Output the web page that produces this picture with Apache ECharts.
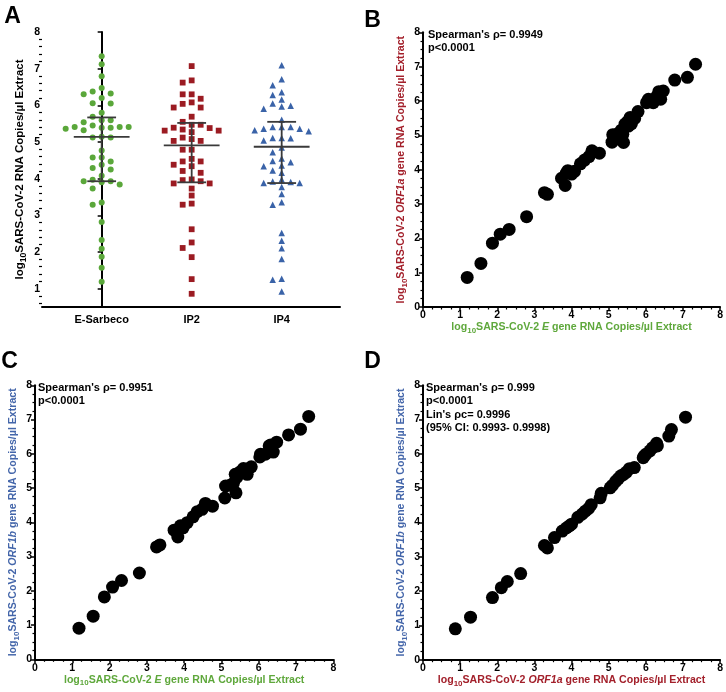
<!DOCTYPE html>
<html><head><meta charset="utf-8">
<script src="https://cdn.jsdelivr.net/npm/echarts@6/dist/echarts.min.js"></script>
<style>html,body{margin:0;padding:0;background:#fff}#c{width:726px;height:692px}</style>
</head><body><div id="c"></div>
<script>
// ---------- DATA ----------
const groups = ['E-Sarbeco', 'IP2', 'IP4'];
const eSarbeco = [7.34,7.12,6.79,6.47,6.38,6.32,6.30,6.20,6.06,6.05,5.80,5.69,5.59,5.59,5.54,5.45,5.41,5.41,5.41,5.39,5.39,5.36,5.32,5.14,5.12,5.12,4.77,4.58,4.58,4.47,4.38,4.29,4.25,4.08,3.97,3.93,3.93,3.90,3.84,3.73,3.35,3.29,2.82,2.33,2.09,1.87,1.57,1.19];
const ip2 = [7.07,6.68,6.62,6.30,6.30,6.18,6.08,6.04,5.94,5.94,5.69,5.55,5.47,5.47,5.39,5.38,5.34,5.31,5.31,5.27,5.12,5.08,5.03,5.03,4.79,4.79,4.54,4.47,4.47,4.38,4.34,4.21,4.16,3.98,3.96,3.93,3.87,3.87,3.73,3.54,3.32,3.29,2.62,2.26,2.11,1.86,1.26,0.86];
const ip4 = [7.09,6.71,6.55,6.36,6.28,6.16,6.05,5.99,5.97,5.91,5.61,5.41,5.41,5.41,5.36,5.36,5.32,5.29,5.11,5.11,5.10,5.04,4.85,4.72,4.55,4.48,4.45,4.36,4.34,4.22,4.16,3.98,3.92,3.91,3.88,3.88,3.77,3.58,3.36,3.29,2.52,2.31,2.10,1.81,1.27,1.24,0.92];
const medians = [5.14, 4.91, 4.87];
const q1 = [3.93, 3.90, 3.88];
const q3 = [5.67, 5.52, 5.55];

// B: E gene (x) vs ORF1a (y)
const bX = [1.19,1.56,1.87,2.08,2.32,2.79,3.27,3.35,3.73,3.83,3.90,4.00,4.08,4.24,4.35,4.47,4.55,4.75,5.09,5.11,5.24,5.38,5.40,5.34,5.44,5.51,5.58,5.70,5.61,5.79,6.02,6.07,6.20,6.29,6.35,6.40,6.47,6.78,7.12,7.34,3.86,5.17,5.53];
const bY = [0.86,1.27,1.86,2.12,2.26,2.63,3.33,3.28,3.75,3.54,3.97,3.87,3.95,4.17,4.28,4.38,4.55,4.48,4.80,5.02,5.04,5.03,4.79,5.15,5.33,5.40,5.52,5.49,5.33,5.69,5.95,6.05,5.95,6.13,6.27,6.05,6.29,6.61,6.69,7.07,3.90,5.01,5.27];
// C: E gene (x) vs ORF1b (y)
const cX = [1.18,1.56,1.86,2.08,2.32,2.80,3.26,3.35,3.73,3.83,3.90,3.97,4.08,4.24,4.35,4.48,4.57,4.76,5.09,5.11,5.23,5.32,5.39,5.37,5.41,5.50,5.59,5.69,5.66,5.80,6.03,6.05,6.18,6.28,6.32,6.39,6.48,6.80,7.12,7.34];
const cY = [0.91,1.26,1.82,2.11,2.30,2.52,3.28,3.34,3.77,3.57,3.90,3.84,3.99,4.16,4.31,4.38,4.55,4.47,4.71,5.06,5.08,5.14,4.86,5.40,5.31,5.47,5.57,5.40,5.47,5.62,5.91,5.99,5.99,6.23,6.26,6.05,6.34,6.55,6.72,7.09];
// D: ORF1a (x) vs ORF1b (y)
const dX = [0.87,1.28,1.87,2.11,2.27,2.63,3.27,3.35,3.54,3.75,3.86,3.94,4.00,4.17,4.28,4.37,4.46,4.53,4.77,4.80,5.04,5.10,5.26,5.33,5.40,5.48,5.56,5.69,5.93,6.00,6.11,6.18,6.29,6.62,6.69,7.07,5.19,5.96,6.31];
const dY = [0.90,1.24,1.81,2.10,2.28,2.51,3.33,3.26,3.56,3.75,3.84,3.90,3.95,4.15,4.24,4.33,4.41,4.52,4.72,4.85,5.01,5.08,5.28,5.36,5.40,5.47,5.57,5.60,5.89,5.99,6.09,6.18,6.31,6.52,6.71,7.07,5.20,5.94,6.23];

const stats = {
  B: ["Spearman's ρ= 0.9949", 'p<0.0001'],
  C: ["Spearman's ρ= 0.9951", 'p<0.0001'],
  D: ["Spearman's ρ= 0.999", 'p<0.0001', "Lin's ρc= 0.9996", '(95% CI: 0.9993- 0.9998)']
};
const tickValuesA = [1,2,3,4,5,6,7,8];

// ---------- STYLE ----------
const FONT = 'Liberation Sans, Arial, sans-serif';
const GREEN = '#5aa73a', RED = '#9b1b22', BLUE = '#3a63a8';
const NAME_GREEN = '#5fa83c', NAME_RED = '#a3202b', NAME_BLUE = '#4466aa';

function pairs(xs, ys) { return xs.map((x, i) => [x, ys[i]]); }

// beeswarm layout (collision-avoidance) for the dot plot
function swarm(vals, gi) {
  const order = vals.map((v, i) => i).sort((a, b) => vals[b] - vals[a]);
  const placed = [], out = [];
  const step = 0.1, dyMin = 0.18;
  order.forEach(i => {
    const v = vals[i];
    for (let k = 0; k < 30; k++) {
      const off = (k === 0 ? 0 : (k % 2 ? -Math.ceil(k / 2) : Math.ceil(k / 2))) * step;
      if (!placed.some(p => Math.abs(p[0] - off) < step * 0.9 && Math.abs(p[1] - v) < dyMin)) {
        placed.push([off, v]); out.push([gi + off, v]); break;
      }
    }
  });
  return out;
}

function richName(color, size) {
  return {
    color: color, fontFamily: FONT, fontWeight: 'bold', fontSize: size,
    rich: {
      n: { color: color, fontFamily: FONT, fontWeight: 'bold', fontSize: size },
      i: { color: color, fontFamily: FONT, fontWeight: 'bold', fontStyle: 'italic', fontSize: size },
      s: { color: color, fontFamily: FONT, fontWeight: 'bold', fontSize: size * 0.75, padding: [7, 0, 0, 0] }
    }
  };
}
function nameStr(gene) {
  return gene
    ? '{n|log}{s|10}{n|SARS-CoV-2 }{i|' + gene + '}{n| gene RNA Copies/µl Extract}'
    : '{n|log}{s|10}{n|SARS-CoV-2 RNA Copies/µl Extract}';
}

const labelStyle = { color: '#000', fontFamily: FONT, fontWeight: 'bold', fontSize: 10.5 };
const axisLine = { show: true, lineStyle: { color: '#000', width: 2 } };

function valueAxis(gridIndex, extra) {
  return Object.assign({
    type: 'value', gridIndex: gridIndex, min: 0, max: 8, interval: 1,
    axisLine: axisLine,
    axisTick: { show: true, length: 4, lineStyle: { color: '#000', width: 1.5 } },
    minorTick: { show: true, splitNumber: 4, length: 2.5, lineStyle: { color: '#000', width: 1.2 } },
    axisLabel: Object.assign({ margin: 3 }, labelStyle),
    splitLine: { show: false }, minorSplitLine: { show: false },
    nameLocation: 'middle'
  }, extra);
}

const minorA = [];
for (let k = 3; k <= 40; k++) { if (k % 5 !== 0) minorA.push(+(k * 0.2).toFixed(1)); }

const chart = echarts.init(document.getElementById('c'), null, { renderer: 'canvas' });

const option = {
  backgroundColor: '#fff',
  animation: false,
  grid: [
    { left: 42, top: 32, width: 298, height: 275 },
    { left: 423, top: 32.3, width: 299, height: 274.7 },
    { left: 35, top: 385.3, width: 298.3, height: 274 },
    { left: 423, top: 385.3, width: 299, height: 274.4 }
  ],
  xAxis: [
    {
      type: 'value', gridIndex: 0, min: -0.663, max: 2.648,
      axisLine: axisLine, axisTick: { show: false }, splitLine: { show: false },
      axisLabel: Object.assign({}, labelStyle, { margin: 7, fontSize: 11, customValues: [0, 1, 2], formatter: v => groups[Math.round(v)] })
    },
    valueAxis(1, { name: nameStr('E'), nameGap: 12, nameTextStyle: richName(NAME_GREEN, 10.6) }),
    valueAxis(2, { name: nameStr('E'), nameGap: 12, nameTextStyle: richName(NAME_GREEN, 10.6) }),
    valueAxis(3, { name: nameStr('ORF1a'), nameGap: 12, nameTextStyle: richName(NAME_RED, 10.6) })
  ],
  yAxis: [
    {
      type: 'value', gridIndex: 0, min: 0.5, max: 8, position: 'left',
      axisLine: axisLine,
      axisTick: { show: true, length: 4, customValues: tickValuesA, lineStyle: { color: '#000', width: 1.5 } },
      axisLabel: Object.assign({ margin: 2, customValues: tickValuesA }, labelStyle),
      splitLine: { show: false },
      name: nameStr(null), nameLocation: 'middle', nameGap: 14, nameTextStyle: richName('#000', 11.5)
    },
    {
      type: 'value', gridIndex: 0, min: 0.5, max: 8, position: 'left', offset: 0,
      axisLine: { show: false },
      axisTick: { show: true, length: 3, customValues: minorA, lineStyle: { color: '#000', width: 1.2 } },
      axisLabel: { show: false }, splitLine: { show: false }
    },
    valueAxis(1, { name: nameStr('ORF1a'), nameGap: 14, nameTextStyle: richName(NAME_RED, 10.6) }),
    valueAxis(2, { name: nameStr('ORF1b'), nameGap: 14, nameTextStyle: richName(NAME_BLUE, 10.6) }),
    valueAxis(3, { name: nameStr('ORF1b'), nameGap: 14, nameTextStyle: richName(NAME_BLUE, 10.6) })
  ],
  series: [
    { type: 'scatter', xAxisIndex: 0, yAxisIndex: 0, symbol: 'circle', symbolSize: 6, itemStyle: { color: GREEN, opacity: 1 }, data: swarm(eSarbeco, 0), z: 2 },
    { type: 'scatter', xAxisIndex: 0, yAxisIndex: 0, symbol: 'rect', symbolSize: 5.8, itemStyle: { color: RED, opacity: 1 }, data: swarm(ip2, 1), z: 2 },
    { type: 'scatter', xAxisIndex: 0, yAxisIndex: 0, symbol: 'triangle', symbolSize: 6.5, itemStyle: { color: BLUE, opacity: 1 }, data: swarm(ip4, 2), z: 2 },
    {
      type: 'custom', xAxisIndex: 0, yAxisIndex: 0, z: 5,
      data: groups.map((g, i) => [i, medians[i], q1[i], q3[i]]),
      encode: { x: 0, y: [1, 2, 3] },
      renderItem: function (params, api) {
        const x = api.value(0);
        const m = api.coord([x, api.value(1)]);
        const lo = api.coord([x, api.value(2)]);
        const hi = api.coord([x, api.value(3)]);
        const half = api.size([0.31, 0])[0];
        const cap = api.size([0.16, 0])[0];
        const st = { stroke: '#3a3a3a', lineWidth: 1.8 };
        return {
          type: 'group', children: [
            { type: 'line', shape: { x1: m[0] - half, y1: m[1], x2: m[0] + half, y2: m[1] }, style: st },
            { type: 'line', shape: { x1: m[0], y1: lo[1], x2: m[0], y2: hi[1] }, style: st },
            { type: 'line', shape: { x1: m[0] - cap, y1: lo[1], x2: m[0] + cap, y2: lo[1] }, style: st },
            { type: 'line', shape: { x1: m[0] - cap, y1: hi[1], x2: m[0] + cap, y2: hi[1] }, style: st }
          ]
        };
      }
    },
    { type: 'scatter', xAxisIndex: 1, yAxisIndex: 2, symbol: 'circle', symbolSize: 13, itemStyle: { color: '#000', opacity: 1 }, data: pairs(bX, bY) },
    { type: 'scatter', xAxisIndex: 2, yAxisIndex: 3, symbol: 'circle', symbolSize: 13, itemStyle: { color: '#000', opacity: 1 }, data: pairs(cX, cY) },
    { type: 'scatter', xAxisIndex: 3, yAxisIndex: 4, symbol: 'circle', symbolSize: 13, itemStyle: { color: '#000', opacity: 1 }, data: pairs(dX, dY) }
  ],
  graphic: []
};

const letterStyle = { fill: '#000', fontFamily: FONT, fontWeight: 'bold', fontSize: 23, textAlign: 'center', textVerticalAlign: 'middle' };
[['A', 12.5, 16.5], ['B', 372.5, 20.5], ['C', 9.5, 361.5], ['D', 372.5, 362]].forEach(([t, x, y]) => {
  option.graphic.push({ type: 'text', x: x, y: y, style: Object.assign({ text: t }, letterStyle) });
});
const statPos = { B: [428, 28], C: [38, 381.5], D: [426, 381.5] };
Object.keys(stats).forEach(k => {
  option.graphic.push({
    type: 'text', x: statPos[k][0], y: statPos[k][1],
    style: { text: stats[k].join('\n'), fill: '#000', fontFamily: FONT, fontWeight: 'bold', fontSize: 11, lineHeight: 13.2, textAlign: 'left', textVerticalAlign: 'top' }
  });
});

chart.setOption(option);
</script>
</body></html>
